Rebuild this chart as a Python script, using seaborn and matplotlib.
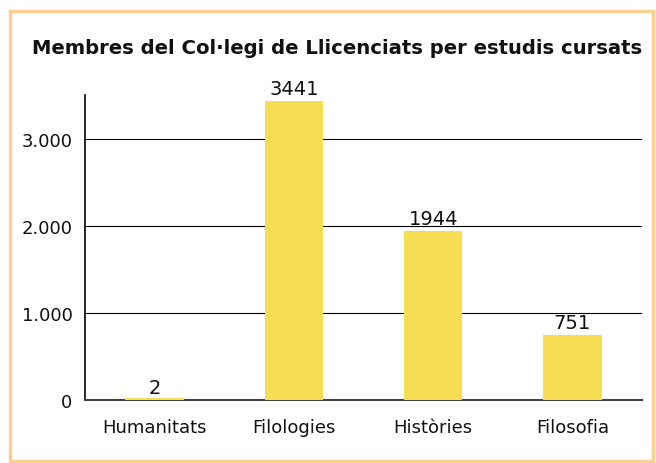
import matplotlib
matplotlib.use("Agg")
import matplotlib.pyplot as plt
import seaborn as sns
import pandas as pd
from matplotlib.patches import Rectangle

# data
estudis = ["Humanitats", "Filologies", "Històries", "Filosofia"]
membres = [2, 3441, 1944, 751]

df = pd.DataFrame({"estudis": estudis, "membres": membres})

sns.set_style("white")
plt.rcParams["font.family"] = ["DejaVu Sans"]

fig = plt.figure(figsize=(6.56, 4.64), dpi=100)
ax = fig.add_axes([0.1296, 0.1358, 0.8491, 0.6573])

bar_col = "#F7DD52"
sns.barplot(data=df, x="estudis", y="membres", color=bar_col, width=0.42,
            saturation=1, ax=ax, linewidth=0, zorder=3)
# the tiny Humanitats bar is still shown as a thin strip, like in the original
ax.patches[0].set_edgecolor(bar_col)
ax.patches[0].set_linewidth(3)

# value labels above the bars
for i, v in enumerate(membres):
    ax.text(i, v + 35, str(v), ha="center", va="bottom", fontsize=14, color="#111111")

ax.set_ylim(0, 3505)
ax.set_xlim(-0.5, 3.5)
ax.set_yticks([0, 1000, 2000, 3000])
ax.set_yticklabels(["0", "1.000", "2.000", "3.000"])
ax.yaxis.grid(True, color="black", linewidth=0.8)
ax.set_axisbelow(True)

# category labels centred, tick marks between categories
ax.set_xticks([-0.5, 0.5, 1.5, 2.5, 3.5])
ax.set_xticklabels([])
ax.set_xticks(range(len(estudis)), minor=True)
ax.set_xticklabels(estudis, minor=True)
ax.tick_params(axis="x", which="major", length=5, width=1, color="#333333", direction="out")
ax.tick_params(axis="x", which="minor", length=0, pad=13, labelsize=13, labelcolor="#111111")
ax.tick_params(axis="y", length=5, width=1, color="black", direction="out", labelsize=13,
               labelcolor="#111111", pad=4)

ax.set_xlabel("")
ax.set_ylabel("")
for s in ["top", "right"]:
    ax.spines[s].set_visible(False)
ax.spines["left"].set_color("black")
ax.spines["left"].set_linewidth(1.2)
ax.spines["bottom"].set_color("#444444")
ax.spines["bottom"].set_linewidth(1.5)

fig.text(0.514, 0.895, "Membres del Col·legi de Llicenciats per estudis cursats",
         ha="center", va="center", fontsize=14.1, fontweight="bold", color="#111111")

# orange frame round the figure
fig.patches.append(Rectangle((0.016, 0.004), 0.980, 0.970, transform=fig.transFigure,
                             fill=False, edgecolor="#FCD092", linewidth=2.5))

fig.savefig("out.png", dpi=100)
